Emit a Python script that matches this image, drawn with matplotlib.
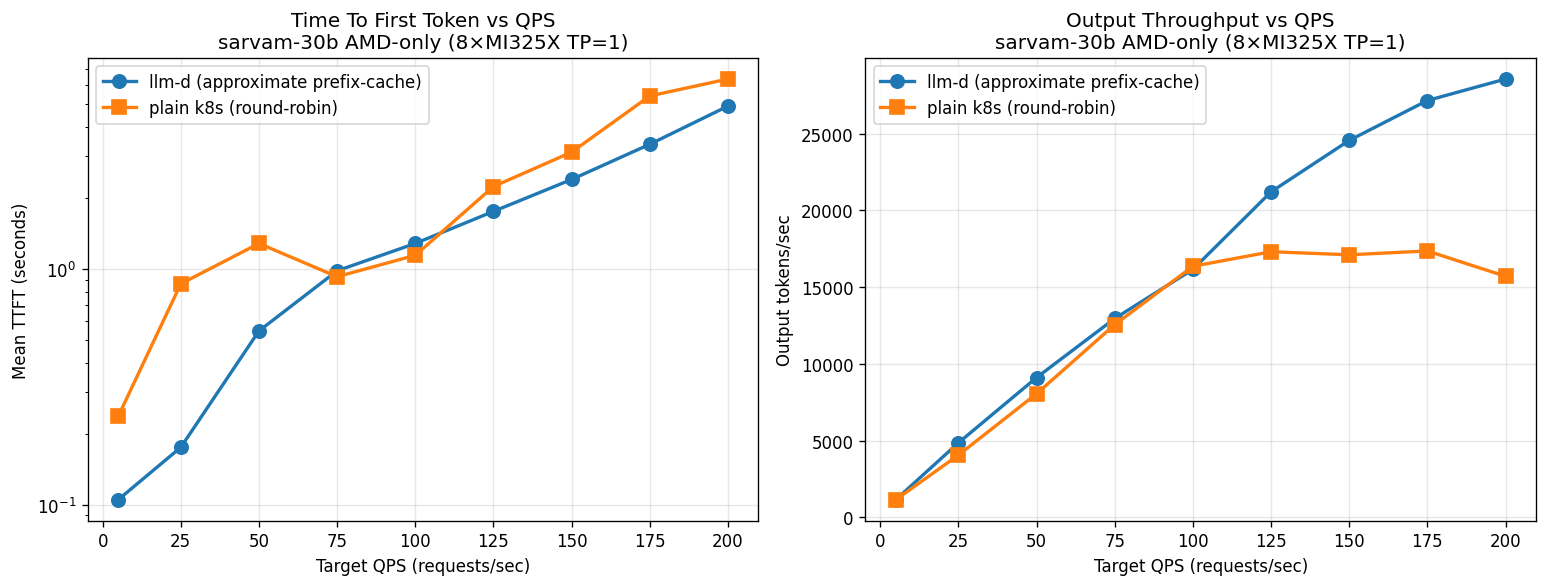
import matplotlib
matplotlib.use("Agg")
import matplotlib.pyplot as plt

qps = [5, 25, 50, 75, 100, 125, 150, 175, 200]

ttft_llmd = [0.105, 0.175, 0.545, 0.98, 1.28, 1.75, 2.39, 3.37, 4.89]
ttft_k8s = [0.237, 0.863, 1.28, 0.925, 1.14, 2.23, 3.12, 5.4, 6.37]

tput_llmd = [1150, 4850, 9100, 12950, 16150, 21200, 24550, 27150, 28550]
tput_k8s = [1150, 4050, 8050, 12550, 16350, 17300, 17100, 17350, 15700]

label_llmd = "llm-d (approximate prefix-cache)"
label_k8s = "plain k8s (round-robin)"
subtitle = "sarvam-30b AMD-only (8×MI325X TP=1)"

fig, (ax1, ax2) = plt.subplots(1, 2, figsize=(13, 5), dpi=120)

ax1.plot(qps, ttft_llmd, "o-", lw=2, ms=8, label=label_llmd)
ax1.plot(qps, ttft_k8s, "s-", lw=2, ms=8, label=label_k8s)
ax1.set_yscale("log")
ax1.set_xlabel("Target QPS (requests/sec)")
ax1.set_ylabel("Mean TTFT (seconds)")
ax1.set_title("Time To First Token vs QPS\n" + subtitle)
ax1.grid(True, alpha=0.3)
ax1.legend(loc="upper left")

ax2.plot(qps, tput_llmd, "o-", lw=2, ms=8, label=label_llmd)
ax2.plot(qps, tput_k8s, "s-", lw=2, ms=8, label=label_k8s)
ax2.set_xlabel("Target QPS (requests/sec)")
ax2.set_ylabel("Output tokens/sec")
ax2.set_title("Output Throughput vs QPS\n" + subtitle)
ax2.grid(True, alpha=0.3)
ax2.legend(loc="upper left")

plt.tight_layout()
plt.savefig("out.png", bbox_inches="tight")
